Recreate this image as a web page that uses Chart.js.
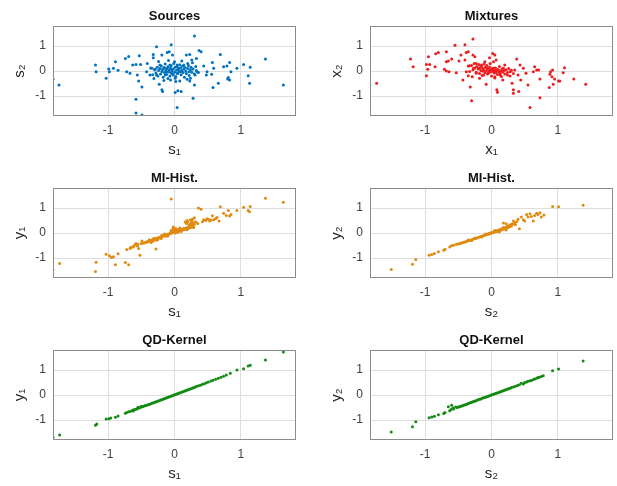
<!DOCTYPE html>
<html lang="en">
<head>
  <meta charset="UTF-8">
  <title>Sources, mixtures and separated signals</title>
  <script src="https://cdn.jsdelivr.net/npm/chart.js"></script>
  <style>
    body {
      margin: 0;
      background: #ffffff;
      width: 617px;
      height: 486px;
      position: relative;
      overflow: hidden;
    }
    canvas { position: absolute; }
  </style>
</head>
<body>
  <canvas id="p0" width="300" height="162" style="left:0px;top:0px"></canvas>
  <canvas id="p1" width="300" height="162" style="left:317px;top:0px"></canvas>
  <canvas id="p2" width="300" height="162" style="left:0px;top:162px"></canvas>
  <canvas id="p3" width="300" height="162" style="left:317px;top:162px"></canvas>
  <canvas id="p4" width="300" height="162" style="left:0px;top:324px"></canvas>
  <canvas id="p5" width="300" height="162" style="left:317px;top:324px"></canvas>

  <script>
    // tick positions shared by every panel
    const tickVals = [-1, 0, 1];

    // Sources (s1, s2)
    const sourcesPts = [
      [0.30,1.40],[-0.05,1.05],[-0.27,0.97],[-1.83,-0.33],[-1.74,-0.56],[-1.19,0.24],[-1.18,-0.03],[-1.03,-0.29],
      [-0.98,-0.03],[-0.99,0.08],[-0.89,0.37],[-0.92,0.11],[-0.85,0.03],[-0.74,0.50],[-0.69,0.58],[-0.72,-0.03],
      [-0.67,-0.09],[-0.63,0.24],[-0.58,0.26],[-0.53,0.61],[-0.51,0.26],[-0.56,-0.16],[-0.54,-0.40],[-0.49,-0.64],
      [-0.58,-1.13],[-0.58,-1.68],[-0.49,-1.76],[-0.41,0.30],[-0.42,-0.03],[-0.37,-0.16],[-0.34,0.11],[-0.32,0.66],
      [-0.32,0.53],[-0.29,0.07],[-0.27,-0.16],[-0.23,-0.53],[-0.18,-0.82],[-0.19,-0.75],[-0.22,0.24],[-0.19,0.64],
      [-0.14,0.11],[-0.11,0.74],[-0.08,0.77],[-0.12,-0.03],[-0.14,-0.16],[-0.07,0.24],[-0.04,0.04],[-0.03,0.64],
      [0.00,0.37],[-0.02,-0.16],[0.01,-0.29],[-0.06,-0.36],[0.04,0.24],[0.06,0.11],[0.04,-0.09],[0.09,-0.03],
      [0.08,-0.40],[0.01,-0.86],[0.05,-0.79],[0.10,-0.82],[0.04,-1.46],[0.14,0.24],[0.18,0.64],[0.23,0.66],
      [0.20,0.30],[0.22,-0.03],[0.24,-0.29],[0.23,-0.40],[0.30,-0.56],[0.31,-0.16],[0.28,-1.09],[0.34,-0.03],
      [0.37,0.82],[0.40,0.77],[0.33,0.50],[0.44,0.20],[0.49,-0.03],[0.48,-0.16],[0.57,0.34],[0.59,0.11],
      [0.56,-0.13],[0.58,-0.66],[0.69,0.66],[0.66,-0.49],[0.74,0.17],[0.79,0.20],[0.83,0.34],[0.85,-0.03],
      [0.81,-0.26],[0.83,-0.36],[0.80,-0.32],[0.94,0.11],[1.04,0.26],[1.14,0.15],[1.11,-0.19],[1.13,-0.49],
      [1.37,0.48],[1.64,-0.56],
      [-0.30,0.05],[-0.28,-0.08],[-0.26,0.15],[-0.25,-0.20],[-0.24,0.02],[-0.22,0.10],[-0.21,-0.12],[-0.20,0.20],
      [-0.19,-0.02],[-0.18,0.06],[-0.17,-0.25],[-0.16,0.14],[-0.15,-0.06],[-0.14,0.28],[-0.13,0.01],[-0.12,-0.14],
      [-0.11,0.09],[-0.10,-0.30],[-0.10,0.17],[-0.09,-0.04],[-0.08,0.04],[-0.07,-0.20],[-0.06,0.12],[-0.05,-0.08],
      [-0.05,0.22],[-0.04,0.00],[-0.03,-0.12],[-0.02,0.08],[-0.01,0.30],[0.00,-0.05],[0.01,0.15],[0.02,-0.22],
      [0.03,0.03],[0.04,0.18],[0.05,-0.10],[0.06,0.07],[0.07,-0.02],[0.08,0.25],[0.09,0.12],[0.10,-0.15],
      [0.11,0.02],[0.12,0.19],[0.13,-0.06],[0.14,0.08],[0.15,-0.25],[0.16,0.14],[0.17,0.00],[0.18,-0.10],
      [0.20,0.10],[0.21,0.22],[0.22,-0.18],[0.24,0.05],[0.25,0.15],[0.26,-0.05],[0.27,0.33],[0.28,0.08],
      [0.30,-0.12],[0.32,0.18],[0.33,0.02],[-0.33,-0.15],[-0.36,0.12],[0.36,-0.06],
      [-0.24,0.38],[-0.16,-0.38],[-0.09,0.42],[0.02,-0.42],[0.11,0.40],[0.19,-0.33],[0.26,0.44],[-0.31,-0.30]
    ];

    // Mixtures (x1, x2)
    const mixturesPts = [
      [-1.73,-0.49],[-1.22,0.48],[-1.18,0.17],[-0.98,0.26],[-0.95,0.57],[-0.98,-0.19],[-0.96,0.07],[-0.93,0.26],
      [-0.85,0.17],[-0.84,0.69],[-0.80,0.74],[-0.71,0.07],[-0.68,0.77],[-0.68,0.37],[-0.65,0.40],[-0.68,0.00],
      [-0.64,-0.03],[-0.60,0.48],[-0.55,1.03],[-0.53,-0.07],[-0.49,0.40],[-0.46,0.64],[-0.43,-0.36],[-0.40,1.05],
      [-0.40,0.44],[-0.38,0.74],[-0.35,0.77],[-0.38,-0.03],[-0.35,-0.19],[-0.33,0.21],[-0.32,-0.64],[-0.30,-1.19],
      [-0.28,1.28],[-0.28,0.64],[-0.25,0.57],[-0.23,0.30],[-0.27,0.11],[-0.29,-0.23],[-0.23,-0.09],[-0.19,0.11],
      [-0.18,-0.29],[-0.15,0.24],[-0.14,0.00],[-0.12,-0.16],[-0.10,0.37],[-0.08,-0.53],[-0.07,0.11],[-0.05,-0.09],
      [-0.03,0.53],[0.02,0.70],[0.05,0.64],[0.03,0.37],[0.07,0.44],[0.03,0.11],[0.00,0.00],[0.05,-0.23],
      [0.08,-0.75],[0.09,-0.85],[0.13,-0.16],[0.17,-0.36],[0.18,0.11],[0.20,0.24],[0.24,-0.16],[0.28,-0.03],
      [0.31,-0.49],[0.33,-0.75],[0.33,-0.89],[0.38,0.48],[0.35,0.04],[0.40,-0.16],[0.43,0.24],[0.44,-0.36],
      [0.41,-0.82],[0.48,0.11],[0.52,-0.09],[0.55,-0.56],[0.58,-1.46],[0.63,-0.03],[0.65,0.17],[0.68,0.04],
      [0.71,0.04],[0.73,-1.07],[0.73,-0.32],[0.87,-0.66],[0.88,-0.13],[0.89,-0.03],[0.92,0.04],[0.91,-0.23],
      [0.95,-0.32],[0.93,-0.53],[1.01,-0.40],[1.03,-0.40],[1.08,-0.07],[1.10,0.13],[1.24,-0.32],[1.42,-0.53],
      [-0.30,0.22],[-0.28,0.05],[-0.26,0.30],[-0.25,0.12],[-0.23,-0.05],[-0.22,0.18],[-0.20,0.08],[-0.19,0.26],
      [-0.18,-0.10],[-0.17,0.14],[-0.16,0.02],[-0.15,0.20],[-0.14,-0.18],[-0.13,0.10],[-0.12,0.04],[-0.11,0.28],
      [-0.10,-0.06],[-0.09,0.15],[-0.08,0.00],[-0.07,0.22],[-0.06,-0.12],[-0.05,0.08],[-0.04,0.02],[-0.03,0.16],
      [-0.02,-0.04],[-0.01,0.06],[0.00,-0.20],[0.01,0.10],[0.02,0.00],[0.03,-0.03],[0.03,0.04],[0.04,-0.08],
      [0.05,0.02],[0.06,0.12],[0.07,-0.05],[0.08,0.03],[0.09,-0.14],[0.10,0.06],[0.11,-0.02],[0.12,0.18],
      [0.13,-0.09],[0.14,0.01],[0.15,-0.22],[0.16,0.08],[0.17,-0.04],[0.19,0.02],[0.20,-0.12],[0.22,0.05],
      [0.24,-0.06],[0.26,0.10],[0.28,-0.20],[0.30,0.03],[-0.35,0.20],[-0.33,-0.02],[0.33,-0.10],[-0.02,0.30],
      [0.05,-0.28]
    ];

    // MI-Hist, left (s1, y1)
    const histLeftPts = [
      [-1.83,-1.48],[-1.73,-1.22],[-1.18,-1.17],[-1.19,-1.54],[-1.03,-0.85],[-0.98,-0.91],[-0.95,-0.98],[-0.89,-1.27],
      [-0.92,-0.95],[-0.85,-0.83],[-0.74,-1.18],[-0.69,-1.27],[-0.72,-0.66],[-0.67,-0.62],[-0.63,-0.56],[-0.58,-0.42],
      [-0.56,-0.52],[-0.54,-0.62],[-0.52,-0.89],[-0.49,-0.32],[-0.42,-0.36],[-0.37,-0.33],[-0.32,-0.32],[-0.28,-0.64],
      [-0.27,-0.29],[-0.05,1.36],[-0.02,0.24],[0.16,0.44],[0.19,0.50],[0.24,0.53],[0.26,0.48],[0.30,0.61],
      [0.36,1.00],[0.40,0.95],[0.44,0.53],[0.49,0.57],[0.53,0.48],[0.57,0.69],[0.59,0.53],[0.67,0.48],
      [0.69,1.05],[0.74,0.79],[0.78,0.70],[0.81,0.90],[0.83,0.68],[0.85,0.74],[0.94,0.90],[1.04,1.03],
      [1.11,0.90],[1.13,0.85],[1.14,1.06],[1.37,1.39],[1.64,1.23],
      [0.42,0.45],[0.47,0.50],[0.51,0.55],[0.55,0.52],[0.62,0.58],[0.64,0.62],
      [0.18,0.38],[0.20,0.45],[0.22,0.33],[0.25,0.40],[0.27,0.55],[0.28,0.42],[0.32,0.45],[0.35,0.38],
      [-0.60,-0.48],[-0.62,-0.55],[-0.66,-0.58],[-0.55,-0.45],[-0.50,-0.42],[-0.47,-0.40],
      [-0.46,-0.40],[-0.44,-0.38],[-0.42,-0.36],[-0.40,-0.35],[-0.39,-0.33],[-0.37,-0.32],[-0.35,-0.30],[-0.34,-0.28],
      [-0.32,-0.27],[-0.30,-0.25],[-0.29,-0.24],[-0.27,-0.22],[-0.26,-0.20],[-0.24,-0.19],[-0.23,-0.18],[-0.21,-0.16],
      [-0.20,-0.15],[-0.18,-0.13],[-0.17,-0.12],[-0.15,-0.10],[-0.14,-0.09],[-0.12,-0.08],[-0.11,-0.06],[-0.10,-0.05],
      [-0.08,-0.04],[-0.07,-0.02],[-0.06,-0.01],[-0.04,0.00],[-0.03,0.02],[-0.02,0.03],[-0.01,0.05],[0.00,0.04],
      [0.01,0.07],[0.02,0.05],[0.03,0.09],[0.04,0.06],[0.05,0.10],[0.06,0.08],[0.07,0.12],[0.08,0.09],
      [0.09,0.13],[0.10,0.11],[0.11,0.15],[0.12,0.12],[0.13,0.16],[0.14,0.14],[0.15,0.18],[0.16,0.15],
      [0.17,0.19],[0.18,0.17],[0.19,0.21],[0.20,0.19],[0.21,0.24],[0.22,0.20],[0.23,0.26],[0.24,0.22],
      [0.25,0.29],[0.26,0.24],[0.27,0.32],[0.28,0.26],[0.30,0.35],[-0.02,0.16],[-0.01,0.20],[0.00,0.12],
      [-0.05,0.10],[0.02,0.18],[-0.03,0.07],[0.05,0.02],[0.08,0.20],[-0.20,-0.22],[-0.15,-0.04],[-0.35,-0.38],
      [-0.10,-0.12],
      [-0.38,-0.27],[-0.31,-0.21],[-0.25,-0.25],[-0.19,-0.09],[-0.13,-0.13],[-0.06,0.02],[0.01,0.00],[0.06,0.14],
      [0.10,0.06],[0.14,0.19],[0.19,0.13],[0.23,0.31],[0.29,0.22]
    ];

    // MI-Hist, right (s2, y2)
    const histRightPts = [
      [-1.51,-1.46],[-1.19,-1.25],[-1.14,-1.06],[-0.94,-0.89],[-0.90,-0.86],[-0.86,-0.82],[-0.80,-0.75],[-0.72,-0.69],
      [-0.70,-0.65],[-0.63,-0.56],[-0.60,-0.50],[-0.57,-0.49],[-0.53,-0.45],[0.18,0.40],[0.22,0.37],[0.29,0.30],
      [0.42,0.17],[0.33,0.48],[0.45,0.64],[0.48,0.53],[0.50,0.48],[0.53,0.74],[0.55,0.64],[0.58,0.77],
      [0.60,0.66],[0.63,0.48],[0.65,0.70],[0.68,0.79],[0.70,0.74],[0.73,0.81],[0.75,0.64],[0.79,0.72],
      [0.92,1.06],[1.01,1.05],[1.38,1.11],
      [0.35,0.40],[0.38,0.45],[0.40,0.55],[0.36,0.33],[0.32,0.36],
      [-0.50,-0.44],[-0.48,-0.42],[-0.46,-0.41],[-0.44,-0.39],[-0.42,-0.37],[-0.40,-0.36],[-0.38,-0.34],[-0.36,-0.32],
      [-0.34,-0.30],[-0.32,-0.29],[-0.30,-0.27],[-0.28,-0.25],[-0.26,-0.23],[-0.24,-0.22],[-0.22,-0.20],[-0.20,-0.18],
      [-0.18,-0.16],[-0.16,-0.14],[-0.14,-0.13],[-0.12,-0.10],[-0.10,-0.09],[-0.08,-0.07],[-0.06,-0.05],[-0.05,-0.03],
      [-0.04,-0.04],[-0.03,-0.01],[-0.02,-0.02],[-0.01,0.00],[0.00,0.01],[0.01,0.02],[0.02,0.01],[0.03,0.04],
      [0.04,0.03],[0.05,0.06],[0.06,0.05],[0.07,0.08],[0.08,0.06],[0.09,0.10],[0.10,0.08],[0.11,0.12],
      [0.12,0.10],[0.13,0.14],[0.14,0.12],[0.15,0.16],[0.16,0.13],[0.17,0.18],[0.18,0.15],[0.19,0.20],
      [0.20,0.17],[0.21,0.22],[0.22,0.19],[0.23,0.25],[0.24,0.21],[0.25,0.28],[0.26,0.23],[0.27,0.31],
      [0.28,0.26],[0.29,0.33],[0.30,0.28],[0.31,0.36],[-0.09,-0.04],[-0.15,-0.16],[0.05,0.10],[0.12,0.05],
      [-0.30,-0.30],[-0.25,-0.20],[0.18,0.22],[-0.35,-0.28],[0.22,0.12]
    ];

    // QD-Kernel, left (s1, y1)
    const qdLeftPts = [
      [-1.83,-1.69],[-1.73,-1.60],[-1.19,-1.21],[-1.17,-1.16],[-1.03,-0.96],[-0.99,-0.95],[-0.96,-0.92],[-0.89,-0.89],
      [-0.85,-0.84],[-0.74,-0.73],[-0.72,-0.70],[-0.69,-0.67],[-0.66,-0.65],[-0.63,-0.60],[-0.62,-0.64],[-0.60,-0.58],
      [-0.58,-0.57],[-0.56,-0.55],[-0.55,-0.49],[-0.53,-0.52],[-0.51,-0.49],[-0.50,-0.45],[-0.49,-0.47],[-0.47,-0.46],
      [-0.45,-0.43],[-0.43,-0.42],[-0.41,-0.40],[-0.39,-0.38],[-0.37,-0.37],[-0.35,-0.34],[-0.33,-0.32],[-0.31,-0.31],
      [-0.29,-0.28],[-0.27,-0.27],[-0.25,-0.24],[-0.23,-0.23],[-0.21,-0.20],[-0.19,-0.19],[-0.17,-0.16],[-0.15,-0.15],
      [-0.13,-0.12],[-0.11,-0.11],[-0.09,-0.08],[-0.07,-0.07],[-0.05,-0.04],[-0.03,-0.03],[-0.01,0.00],[0.01,0.01],
      [0.03,0.04],[0.05,0.05],[0.07,0.08],[0.09,0.09],[0.11,0.12],[0.13,0.13],[0.15,0.16],[0.17,0.17],
      [0.19,0.20],[0.21,0.21],[0.23,0.24],[0.25,0.25],[0.27,0.28],[0.29,0.29],[0.31,0.32],[0.33,0.34],
      [0.36,0.37],[0.39,0.39],[0.42,0.43],[0.45,0.45],[0.48,0.49],[0.51,0.52],[0.55,0.56],[0.58,0.59],
      [0.62,0.63],[0.66,0.67],[0.70,0.71],[0.74,0.75],[0.78,0.80],[0.84,0.87],[0.94,1.00],[1.04,1.05],
      [1.11,1.16],[1.14,1.19],[1.37,1.40],[1.64,1.72]
    ];

    // QD-Kernel, right (s2, y2)
    const qdRightPts = [
      [-1.51,-1.48],[-1.19,-1.27],[-1.14,-1.07],[-0.94,-0.91],[-0.90,-0.88],[-0.86,-0.85],[-0.80,-0.79],[-0.72,-0.74],
      [-0.70,-0.70],[-0.65,-0.47],[-0.63,-0.63],[-0.60,-0.41],[-0.57,-0.56],[-0.54,-0.48],[-0.61,-0.58],[-0.58,-0.52],
      [-0.52,-0.50],[-0.50,-0.48],[-0.48,-0.47],[-0.46,-0.45],[-0.44,-0.43],[-0.42,-0.41],[-0.40,-0.39],[-0.38,-0.38],
      [-0.36,-0.35],[-0.34,-0.33],[-0.32,-0.31],[-0.30,-0.29],[-0.28,-0.27],[-0.26,-0.25],[-0.24,-0.24],[-0.22,-0.21],
      [-0.20,-0.19],[-0.18,-0.17],[-0.16,-0.16],[-0.14,-0.13],[-0.12,-0.11],[-0.10,-0.10],[-0.08,-0.08],[-0.06,-0.06],
      [-0.04,-0.04],[-0.02,-0.02],[0.00,0.00],[0.02,0.02],[0.04,0.04],[0.06,0.06],[0.08,0.08],[0.10,0.09],
      [0.12,0.12],[0.14,0.13],[0.16,0.16],[0.18,0.17],[0.20,0.20],[0.22,0.21],[0.24,0.24],[0.26,0.25],
      [0.28,0.27],[0.30,0.30],[0.33,0.32],[0.36,0.35],[0.39,0.38],[0.42,0.41],[0.45,0.47],[0.48,0.44],
      [0.50,0.50],[0.53,0.52],[0.55,0.55],[0.58,0.57],[0.60,0.58],[0.63,0.62],[0.65,0.64],[0.68,0.67],
      [0.70,0.70],[0.72,0.71],[0.75,0.74],[0.78,0.77],[0.92,0.97],[1.01,1.04],[1.38,1.36]
    ];

    const panels = [
      { id: 'p0', title: 'Sources', xLabel: 's\u2081', yLabel: 's\u2082', pts: sourcesPts, color: '#0072bd' },
      { id: 'p1', title: 'Mixtures', xLabel: 'x\u2081', yLabel: 'x\u2082', pts: mixturesPts, color: '#ee1c1c' },
      { id: 'p2', title: 'MI-Hist.', xLabel: 's\u2081', yLabel: 'y\u2081', pts: histLeftPts, color: '#e08a10' },
      { id: 'p3', title: 'MI-Hist.', xLabel: 's\u2082', yLabel: 'y\u2082', pts: histRightPts, color: '#e08a10' },
      { id: 'p4', title: 'QD-Kernel', xLabel: 's\u2081', yLabel: 'y\u2081', pts: qdLeftPts, color: '#138a13' },
      { id: 'p5', title: 'QD-Kernel', xLabel: 's\u2082', yLabel: 'y\u2082', pts: qdRightPts, color: '#138a13' }
    ];

    const fontFamily = "'Liberation Sans', Arial, Helvetica, 'DejaVu Sans', sans-serif";
    Chart.defaults.font.family = fontFamily;

    // matlab-like box around the plot area
    const boxPlugin = {
      id: 'box',
      afterDraw(chart) {
        const a = chart.chartArea;
        const ctx = chart.ctx;
        ctx.save();
        ctx.strokeStyle = '#8c8c8c';
        ctx.lineWidth = 1;
        ctx.strokeRect(a.left + 0.5, a.top + 0.5, a.right - a.left - 1, a.bottom - a.top - 1);
        ctx.restore();
      }
    };

    function fixedTicks(scale) {
      scale.ticks = tickVals.map(v => ({ value: v }));
    }

    panels.forEach(p => {
      new Chart(document.getElementById(p.id), {
        type: 'scatter',
        data: {
          datasets: [{
            data: p.pts.map(([x, y]) => ({ x, y })),
            backgroundColor: p.color,
            borderWidth: 0,
            pointRadius: 1.5,
            pointHoverRadius: 1.5
          }]
        },
        options: {
          responsive: false,
          animation: false,
          devicePixelRatio: 1,
          events: [],
          layout: { padding: { right: 4 } },
          plugins: {
            legend: { display: false },
            tooltip: { enabled: false },
            title: {
              display: true,
              text: p.title,
              fullSize: false,
              color: '#111111',
              font: { size: 13, weight: 'bold' },
              padding: { top: 9, bottom: 1.4 }
            }
          },
          scales: {
            x: {
              type: 'linear',
              min: -1.83,
              max: 1.83,
              afterBuildTicks: fixedTicks,
              afterFit: s => { s.height = 46; },
              grid: { color: '#dedede', drawTicks: false },
              border: { display: false },
              ticks: { padding: 7, color: '#404040', font: { size: 12 } },
              title: {
                display: true,
                text: p.xLabel,
                color: '#262626',
                font: { size: 15 },
                padding: { top: 0, bottom: 3 }
              }
            },
            y: {
              type: 'linear',
              min: -1.8,
              max: 1.8,
              afterBuildTicks: fixedTicks,
              afterFit: s => { s.width = 53; },
              grid: { color: '#dedede', drawTicks: false },
              border: { display: false },
              ticks: { padding: 7, color: '#404040', font: { size: 12 } },
              title: {
                display: true,
                text: p.yLabel,
                color: '#262626',
                font: { size: 15 },
                padding: { top: 11, bottom: 0 }
              }
            }
          }
        },
        plugins: [boxPlugin]
      });
    });
  </script>
</body>
</html>
